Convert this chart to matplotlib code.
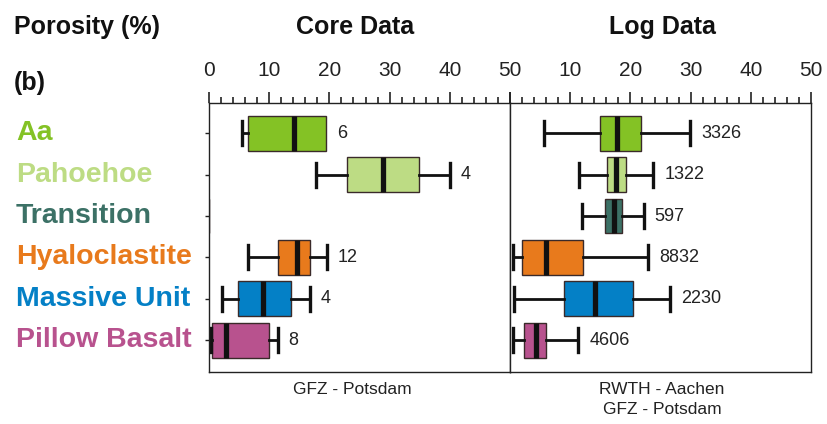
import matplotlib
matplotlib.use("Agg")
import matplotlib.pyplot as plt
from matplotlib.ticker import MultipleLocator

plt.rcParams['font.family'] = ['Liberation Sans', 'DejaVu Sans']

# categories, top to bottom
units = ["Aa", "Pahoehoe", "Transition", "Hyaloclastite", "Massive Unit", "Pillow Basalt"]
colors = ["#84c225", "#bddc84", "#3c7166", "#e87a1c", "#0480c6", "#b8528e"]

# core data (GFZ Potsdam): whisker low, q1, median, q3, whisker high, n
core_lo = [5.5, 17.8, 0.0, 6.5, 2.1, 0.3]
core_q1 = [6.4, 22.9, 0.0, 11.5, 4.9, 0.5]
core_med = [14.1, 28.9, 0.0, 14.7, 9.0, 2.9]
core_q3 = [19.5, 34.9, 0.0, 16.7, 13.6, 9.9]
core_hi = [19.5, 40.0, 0.0, 19.6, 16.7, 11.4]
core_n = ["6", "4", "", "12", "4", "8"]

# log data (RWTH Aachen / GFZ Potsdam)
log_lo = [5.6, 11.5, 12.0, 0.5, 0.7, 0.5]
log_q1 = [15.0, 16.1, 15.8, 2.0, 8.9, 2.3]
log_med = [17.8, 17.6, 17.3, 5.9, 14.1, 4.3]
log_q3 = [21.7, 19.3, 18.6, 12.2, 20.5, 5.9]
log_hi = [29.9, 23.8, 22.2, 23.0, 26.6, 11.3]
log_n = ["3326", "1322", "597", "8832", "2230", "4606"]

xticks = [0, 10, 20, 30, 40, 50]

fig = plt.figure(figsize=(8.27, 4.24), dpi=100)
ax1 = fig.add_axes([0.2527, 0.1226, 0.364, 0.634])
ax2 = fig.add_axes([0.6167, 0.1226, 0.364, 0.634])


def draw_panel(ax, lo, q1, med, q3, hi, ns):
    stats = []
    for i in range(len(units)):
        stats.append(dict(whislo=lo[i], q1=q1[i], med=med[i], q3=q3[i],
                          whishi=hi[i], fliers=[]))
    pos = list(range(len(units)))
    bp = ax.bxp(stats, positions=pos, widths=0.84, capwidths=0.58,
                orientation='horizontal', patch_artist=True, showfliers=False,
                boxprops=dict(edgecolor='#3a2a2a', linewidth=1.0),
                medianprops=dict(color='#111111', linewidth=3.8, solid_capstyle='butt'),
                whiskerprops=dict(color='#111111', linewidth=2.0),
                capprops=dict(color='#111111', linewidth=2.4))
    for patch, c in zip(bp['boxes'], colors):
        patch.set_facecolor(c)
    # no cap where the whisker has no length
    for i in range(len(units)):
        if hi[i] == q3[i]:
            bp['caps'][2 * i + 1].set_visible(False)
        if lo[i] == q1[i]:
            bp['caps'][2 * i].set_visible(False)
        if lo[i] == hi[i]:
            bp['medians'][i].set_linewidth(1.5)
    for i, n in enumerate(ns):
        if n:
            ax.annotate(n, (hi[i], pos[i]), xytext=(8, 0), textcoords='offset points',
                        ha='left', va='center', fontsize=13, color='#222222')
    ax.set_xlim(0, 50)
    ax.set_ylim(len(units) - 0.23, -0.73)
    ax.xaxis.set_ticks_position('top')
    ax.xaxis.set_label_position('top')
    ax.set_xticks(xticks)
    ax.xaxis.set_minor_locator(MultipleLocator(2))
    ax.tick_params(axis='x', which='major', length=8, width=1.2, pad=9,
                   labelsize=15, color='#222222', labelcolor='#222222')
    ax.tick_params(axis='x', which='minor', length=4, width=1.2, color='#222222')
    for s in ax.spines.values():
        s.set_linewidth(1.0)
        s.set_color('#222222')


draw_panel(ax1, core_lo, core_q1, core_med, core_q3, core_hi, core_n)
draw_panel(ax2, log_lo, log_q1, log_med, log_q3, log_hi, log_n)

ax1.set_yticks(range(len(units)))
ax1.set_yticklabels([])
ax1.tick_params(axis='y', length=3, width=1.0, color='#222222')
ax2.set_yticks([])
ax2.set_xticks(xticks, labels=[""] + [str(t) for t in xticks[1:]])

# category labels
for i, (u, c) in enumerate(zip(units, colors)):
    ax1.annotate(u, xy=(0, i), xycoords=('figure fraction', 'data'),
                 xytext=(16, 0), textcoords='offset pixels',
                 ha='left', va='center', fontsize=20.5, fontweight='bold', color=c)

fig.text(14 / 827, 1 - 27 / 424, "Porosity (%)", fontsize=18, fontweight='bold',
         ha='left', va='center', color='#111111')
fig.text(14 / 827, 1 - 83 / 424, "(b)", fontsize=18, fontweight='bold',
         ha='left', va='center', color='#111111')
fig.text(355 / 827, 1 - 27 / 424, "Core Data", fontsize=18, fontweight='bold',
         ha='center', va='center', color='#111111')
fig.text(662 / 827, 1 - 27 / 424, "Log Data", fontsize=18, fontweight='bold',
         ha='center', va='center', color='#111111')
fig.text(352 / 827, 1 - 390 / 424, "GFZ - Potsdam", fontsize=12.5,
         ha='center', va='center', color='#222222')
fig.text(662 / 827, 1 - 390 / 424, "RWTH - Aachen", fontsize=12.5,
         ha='center', va='center', color='#222222')
fig.text(662 / 827, 1 - 410 / 424, "GFZ - Potsdam", fontsize=12.5,
         ha='center', va='center', color='#222222')

fig.savefig("out.png", dpi=100)
